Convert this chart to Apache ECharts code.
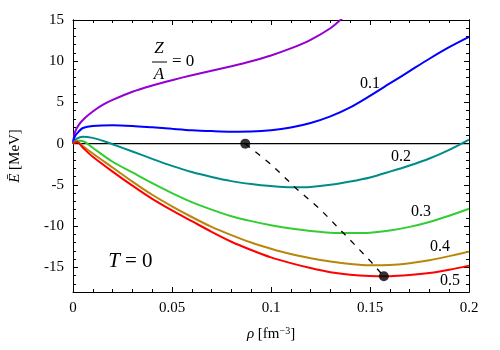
<!DOCTYPE html>
<html>
<head>
<meta charset="utf-8">
<script src="https://cdn.jsdelivr.net/npm/echarts@6/dist/echarts.min.js"></script>
<style>
html,body{margin:0;padding:0;background:#fff;}
#chart{width:500px;height:350px;}
</style>
</head>
<body>
<div id="chart"></div>
<script>
// E/A vs density, T=0, one curve per Z/A
var fams='"Liberation Serif", "DejaVu Serif", serif';

var xTicks=[0,0.05,0.1,0.15,0.2];
var yTicks=[-15,-10,-5,0,5,10,15];
var yMinor=[];
for(var k=-18;k<=15;k++){yMinor.push(k)}

var za00=[[0,0],[0.001,1.4],[0.003,2.3],[0.006,3.1],[0.01,3.9],[0.015,4.7],[0.02,5.3],[0.03,6.3],[0.04,7.05],[0.05,7.7],[0.06,8.3],[0.07,8.85],[0.08,9.4],[0.09,10.0],[0.1,10.7],[0.11,11.55],[0.12,12.6],[0.13,14.0],[0.136,15.2]];
var za01=[[0,0],[0.001,0.9],[0.003,1.5],[0.005,1.9],[0.01,2.15],[0.02,2.24],[0.03,2.15],[0.04,1.98],[0.05,1.8],[0.06,1.63],[0.07,1.52],[0.08,1.45],[0.09,1.47],[0.1,1.62],[0.11,1.95],[0.12,2.5],[0.13,3.3],[0.14,4.4],[0.15,5.8],[0.16,7.3],[0.17,8.8],[0.18,10.3],[0.19,11.7],[0.2,12.95]];
var za02=[[0,0],[0.002,0.6],[0.005,0.85],[0.01,0.7],[0.015,0.35],[0.02,-0.08],[0.03,-0.95],[0.04,-1.85],[0.05,-2.7],[0.06,-3.45],[0.07,-4.05],[0.08,-4.55],[0.09,-4.9],[0.1,-5.15],[0.11,-5.3],[0.12,-5.25],[0.13,-5.0],[0.14,-4.6],[0.15,-4.1],[0.16,-3.4],[0.17,-2.65],[0.18,-1.8],[0.19,-0.75],[0.2,0.5]];
var za03=[[0,0],[0.003,0.35],[0.006,0.2],[0.01,-0.5],[0.02,-2.2],[0.03,-3.5],[0.04,-4.8],[0.05,-6.0],[0.06,-7.1],[0.07,-8.0],[0.08,-8.8],[0.09,-9.4],[0.1,-9.9],[0.11,-10.3],[0.12,-10.6],[0.13,-10.8],[0.14,-10.85],[0.15,-10.8],[0.16,-10.55],[0.17,-10.1],[0.18,-9.5],[0.19,-8.75],[0.2,-7.9]];
var za04=[[0,0],[0.002,0.25],[0.005,-0.3],[0.01,-1.2],[0.02,-2.9],[0.03,-4.6],[0.04,-6.2],[0.05,-7.6],[0.06,-8.9],[0.07,-10.1],[0.08,-11.1],[0.09,-12.0],[0.1,-12.75],[0.11,-13.4],[0.12,-13.9],[0.13,-14.3],[0.14,-14.6],[0.15,-14.75],[0.16,-14.72],[0.17,-14.5],[0.18,-14.15],[0.19,-13.65],[0.2,-13.1]];
var za05=[[0,0],[0.002,0.2],[0.005,-0.5],[0.01,-1.6],[0.02,-3.4],[0.03,-5.1],[0.04,-6.7],[0.05,-8.1],[0.06,-9.4],[0.07,-10.7],[0.08,-11.9],[0.09,-12.9],[0.1,-13.8],[0.11,-14.5],[0.12,-15.1],[0.13,-15.6],[0.14,-15.9],[0.15,-16.05],[0.16,-16.08],[0.17,-15.95],[0.18,-15.7],[0.19,-15.3],[0.2,-14.8]];
var satLine=[[0.087,0],[0.1,-2.5],[0.113,-5.5],[0.125,-8.0],[0.138,-11.2],[0.15,-14.2],[0.157,-16.1]];
var satDots=[[0.087,0],[0.157,-16.1]];
var zeroLine=[[0,0],[0.2,0]];

var curves=[
	{d:za00,c:'#9400d3'},
	{d:za01,c:'#0000ff'},
	{d:za02,c:'#008b8b'},
	{d:za03,c:'#32cd32'},
	{d:za04,c:'#b8860b'},
	{d:za05,c:'#ff0000'}
];

function yAx(pos,vals,len,lab,nm){
	return {
		type:'value',position:pos,min:-18,max:15,
		name:nm||'',nameLocation:'middle',nameGap:50,
		nameTextStyle:{color:'#000',fontFamily:fams,fontSize:15,rich:{i:{fontStyle:'italic',fontFamily:fams,fontSize:15,color:'#000'}}},
		axisLine:{show:true,onZero:false,lineStyle:{color:'#000',width:1}},
		axisTick:{show:true,inside:true,length:len,customValues:vals,lineStyle:{color:'#000'}},
		axisLabel:{show:lab,customValues:yTicks,color:'#000',fontFamily:fams,fontSize:15,margin:9},
		splitLine:{show:false}
	}
}
function xAx(pos,lab,nm){
	return {
		type:'value',position:pos,min:0,max:0.2,interval:0.05,
		name:nm||'',nameLocation:'middle',nameGap:34,
		nameTextStyle:{color:'#000',fontFamily:fams,fontSize:15,rich:{i:{fontStyle:'italic',fontFamily:fams,fontSize:15,color:'#000'},s:{fontFamily:fams,fontSize:10,color:'#000',padding:[0,0,7,0]}}},
		axisLine:{show:true,onZero:false,lineStyle:{color:'#000',width:1}},
		axisTick:{show:true,inside:true,length:5,lineStyle:{color:'#000'}},
		minorTick:{show:true,splitNumber:5,length:3,lineStyle:{color:'#000'}},
		axisLabel:{show:lab,color:'#000',fontFamily:fams,fontSize:15,margin:9},
		splitLine:{show:false}
	}
}

var series=[];
series.push({type:'line',data:zeroLine,symbol:'none',lineStyle:{color:'#000',width:1.4},silent:true});
for(var i=0;i<curves.length;i++){
	series.push({type:'line',data:curves[i].d,smooth:0.3,symbol:'none',lineStyle:{color:curves[i].c,width:2},silent:true});
}
series.push({type:'line',data:satLine,symbol:'none',lineStyle:{color:'#000',width:1.3,type:[6,7]},silent:true});
series.push({type:'scatter',data:satDots,symbolSize:10,itemStyle:{color:'#000'},silent:true,z:5});

function txt(x,y,s,size,ital){
	return {type:'text',x:x,y:y,style:{text:s,fill:'#000',font:(ital?'italic ':'')+size+'px '+fams,textAlign:'center',textVerticalAlign:'middle'}}
}

var chart=echarts.init(document.getElementById('chart'),null,{renderer:'canvas'});
chart.setOption({
	animation:false,
	backgroundColor:'#fff',
	grid:{left:72,right:31,top:20,bottom:58},
	xAxis:[xAx('bottom',true,'{i|ρ} [fm{s|−3}]'),xAx('top',false)],
	yAxis:[yAx('left',yTicks,5,true,'{i|Ē} [MeV]'),yAx('left',yMinor,3,false),yAx('right',yTicks,5,false),yAx('right',yMinor,3,false)],
	series:series,
	graphic:[
		txt(159,49,'Z',17,true),
		{type:'line',shape:{x1:152,y1:62,x2:167,y2:62},style:{stroke:'#000',lineWidth:1}},
		txt(159,75,'A',17,true),
		{type:'text',x:172,y:62,style:{text:'= 0',fill:'#000',font:'17px '+fams,textVerticalAlign:'middle'}},
		txt(370,84,'0.1',16),
		txt(401,157,'0.2',16),
		txt(421,212,'0.3',16),
		txt(440,247,'0.4',16),
		txt(450,281,'0.5',16),
		txt(114,261,'T',21,true),
		{type:'text',x:125,y:261,style:{text:'= 0',fill:'#000',font:'21px '+fams,textVerticalAlign:'middle'}}
	]
});
</script>
</body>
</html>
